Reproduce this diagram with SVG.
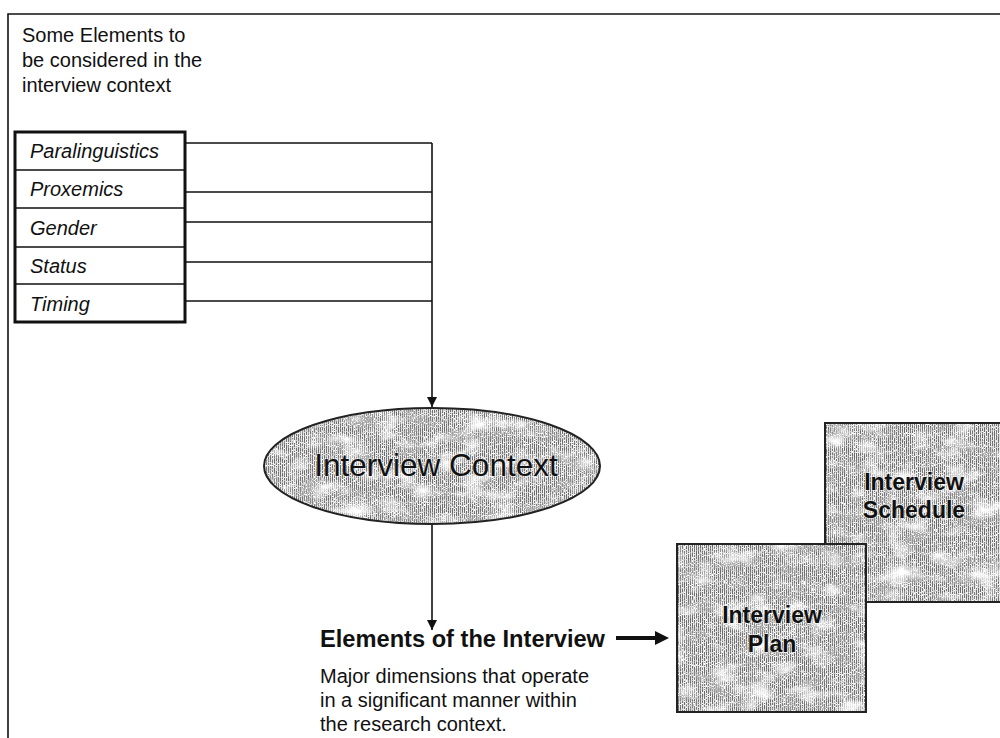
<svg xmlns="http://www.w3.org/2000/svg" width="1000" height="738" viewBox="0 0 1000 738">
  <style>
    .sans { font-family: "Liberation Sans", Arial, sans-serif; fill: #111; }
    .note { font-size: 20px; }
    .item { font-size: 20px; font-style: italic; }
    .wire { fill: none; stroke: #111; stroke-width: 1.6; }
    .shade { stroke: #222; stroke-width: 2; }
    .lbl { font-weight: bold; font-size: 23px; text-anchor: middle; stroke: #fff; stroke-width: 1.6; stroke-opacity: 0.6; paint-order: stroke; }
  </style>
  <defs>
    <!-- screen-print style grey: fine vertical hatching -->
    <pattern id="hatch" width="2" height="2" patternUnits="userSpaceOnUse">
      <rect width="2" height="2" fill="#e2e2e2"/>
      <rect width="1" height="2" fill="#6c6c6c"/>
    </pattern>
    <!-- light blotches laid over the hatching -->
    <filter id="mottle" x="0" y="0" width="100%" height="100%">
      <feTurbulence type="fractalNoise" baseFrequency="0.035 0.06" numOctaves="4" seed="7" result="n"/>
      <feColorMatrix in="n" type="matrix" values="0 0 0 0 1  0 0 0 0 1  0 0 0 0 1  0 0 0 -2.6 1.35" result="w"/>
      <feComposite in="w" in2="SourceGraphic" operator="in"/>
    </filter>
    <!-- darker blotches -->
    <filter id="mottleDark" x="0" y="0" width="100%" height="100%">
      <feTurbulence type="fractalNoise" baseFrequency="0.04 0.07" numOctaves="3" seed="21" result="n"/>
      <feColorMatrix in="n" type="matrix" values="0 0 0 0 0.4  0 0 0 0 0.4  0 0 0 0 0.4  0 0 0 2.4 -1.1" result="d"/>
      <feComposite in="d" in2="SourceGraphic" operator="in"/>
    </filter>
    <!-- fine speckle -->
    <filter id="speckle" x="0" y="0" width="100%" height="100%">
      <feTurbulence type="fractalNoise" baseFrequency="0.9" numOctaves="1" seed="3" result="n"/>
      <feColorMatrix in="n" type="matrix" values="0 0 0 0 1  0 0 0 0 1  0 0 0 0 1  0 0 0 -6 2.9" result="s"/>
      <feComposite in="s" in2="SourceGraphic" operator="in"/>
    </filter>
    <marker id="tip" markerWidth="10" markerHeight="12" refX="10" refY="6" orient="auto" markerUnits="userSpaceOnUse">
      <path d="M0,1 L10,6 L0,11 Z" fill="#111"/>
    </marker>
  </defs>

  <rect width="1000" height="738" fill="#fff"/>

  <!-- page frame -->
  <path d="M8,738 V14 H1000" fill="none" stroke="#111" stroke-width="1.6"/>

  <g id="heading">
    <text class="sans note" x="22" y="42">Some Elements to</text>
    <text class="sans note" x="22" y="67">be considered in the</text>
    <text class="sans note" x="22" y="92">interview context</text>
  </g>

  <g id="element-list">
    <rect x="15" y="132" width="170" height="190" fill="#fff" stroke="#111" stroke-width="3"/>
    <path d="M15,170 H185 M15,208 H185 M15,247 H185 M15,284 H185" stroke="#111" stroke-width="1.6"/>
    <text class="sans item" x="30" y="158">Paralinguistics</text>
    <text class="sans item" x="30" y="196">Proxemics</text>
    <text class="sans item" x="30" y="235">Gender</text>
    <text class="sans item" x="30" y="273">Status</text>
    <text class="sans item" x="30" y="311">Timing</text>
  </g>

  <g id="connectors">
    <path class="wire" d="M186,143 H432 M186,192 H432 M186,222 H432 M186,262 H432 M186,301 H432"/>
    <path class="wire" d="M432,143 V407" marker-end="url(#tip)"/>
    <path class="wire" d="M432,525 V630" marker-end="url(#tip)"/>
    <path d="M616,638 H657" stroke="#111" stroke-width="4"/>
    <path d="M655,631 L669,638 L655,645 Z" fill="#111"/>
  </g>

  <g id="interview-context">
    <ellipse cx="432" cy="466" rx="168" ry="58" fill="url(#hatch)"/>
    <ellipse cx="432" cy="466" rx="168" ry="58" fill="#000" filter="url(#mottleDark)"/>
    <ellipse cx="432" cy="466" rx="168" ry="58" fill="#000" filter="url(#mottle)"/>
    <ellipse cx="432" cy="466" rx="168" ry="58" fill="#000" filter="url(#speckle)"/>
    <ellipse cx="432" cy="466" rx="168" ry="58" fill="none" class="shade"/>
    <text class="sans" x="436" y="476" font-size="31.5" text-anchor="middle" stroke="#fff" stroke-width="1.4" stroke-opacity="0.55" paint-order="stroke">Interview Context</text>
  </g>

  <g id="elements-of-interview">
    <text class="sans" x="320" y="647" font-size="23" font-weight="bold" textLength="285" lengthAdjust="spacingAndGlyphs">Elements of the Interview</text>
    <text class="sans note" x="320" y="683">Major dimensions that operate</text>
    <text class="sans note" x="320" y="707">in a significant manner within</text>
    <text class="sans note" x="320" y="731">the research context.</text>
  </g>

  <g id="interview-schedule">
    <rect x="825" y="423" width="178" height="179" fill="url(#hatch)"/>
    <rect x="825" y="423" width="178" height="179" fill="#000" filter="url(#mottleDark)"/>
    <rect x="825" y="423" width="178" height="179" fill="#000" filter="url(#mottle)"/>
    <rect x="825" y="423" width="178" height="179" fill="#000" filter="url(#speckle)"/>
    <rect x="825" y="423" width="178" height="179" fill="none" class="shade"/>
    <text class="sans lbl" x="914" y="490">Interview</text>
    <text class="sans lbl" x="914" y="518">Schedule</text>
  </g>

  <g id="interview-plan">
    <rect x="677" y="544" width="189" height="168" fill="url(#hatch)"/>
    <rect x="677" y="544" width="189" height="168" fill="#000" filter="url(#mottleDark)"/>
    <rect x="677" y="544" width="189" height="168" fill="#000" filter="url(#mottle)"/>
    <rect x="677" y="544" width="189" height="168" fill="#000" filter="url(#speckle)"/>
    <rect x="677" y="544" width="189" height="168" fill="none" class="shade"/>
    <text class="sans lbl" x="772" y="623">Interview</text>
    <text class="sans lbl" x="772" y="652">Plan</text>
  </g>
</svg>
